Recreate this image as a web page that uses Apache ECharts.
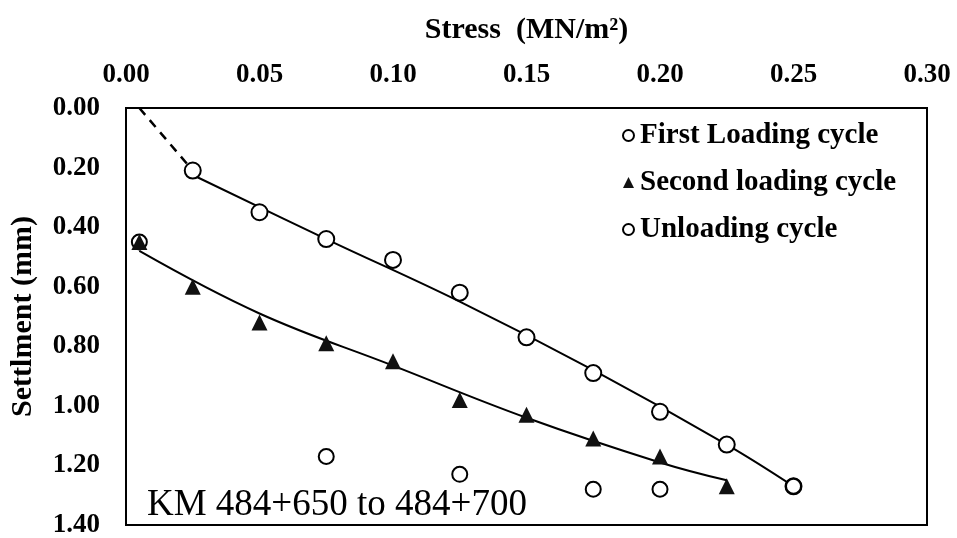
<!DOCTYPE html>
<html>
<head>
<meta charset="utf-8">
<script src="https://cdn.jsdelivr.net/npm/echarts@6/dist/echarts.min.js"></script>
<style>
  html, body { margin: 0; padding: 0; background: #fff; }
  #chart { width: 957px; height: 538px; }
</style>
</head>
<body>
<div id="chart"></div>
<script>
// Plate load test: stress (MN/m²) vs settlement (mm)
const seriesNames = ['First Loading cycle', 'Second loading cycle', 'Unloading cycle'];

// measured points [stress, settlement]
const firstLoading = [
  [0.025, 0.21], [0.05, 0.35], [0.075, 0.44], [0.10, 0.51], [0.125, 0.62],
  [0.15, 0.77], [0.175, 0.89], [0.20, 1.02], [0.225, 1.13], [0.25, 1.27]
];
const secondLoading = [
  [0.005, 0.45], [0.025, 0.60], [0.05, 0.72], [0.075, 0.79], [0.10, 0.85],
  [0.125, 0.98], [0.15, 1.03], [0.175, 1.11], [0.20, 1.17], [0.225, 1.27]
];
const unloading = [
  [0.25, 1.27], [0.20, 1.28], [0.175, 1.28], [0.125, 1.23], [0.075, 1.17], [0.005, 0.45]
];

// fitted curves drawn through the loading data
const firstTrend = [
  [0.025, 0.225], [0.075, 0.44], [0.125, 0.65], [0.175, 0.88], [0.225, 1.13], [0.25, 1.27]
];
const secondTrend = [
  [0.005, 0.48], [0.05, 0.69], [0.10, 0.865], [0.15, 1.04], [0.20, 1.19], [0.225, 1.25]
];
// extrapolated start of the first loading curve
const firstStart = [[0.005, 0.0], [0.025, 0.21]];

const serif = 'Liberation Serif, Times New Roman, serif';

const chart = echarts.init(document.getElementById('chart'), null, { renderer: 'canvas' });

chart.setOption({
  backgroundColor: '#fff',
  animation: false,
  grid: {
    left: 126, top: 108, right: 30, bottom: 13,
    outerBoundsMode: 'none', containLabel: false,
    show: true, borderColor: '#000', borderWidth: 2
  },
  xAxis: {
    type: 'value', position: 'top',
    min: 0, max: 0.30, interval: 0.05,
    name: 'Stress  (MN/m²)', nameLocation: 'middle', nameGap: 63, nameMoveOverlap: false,
    nameTextStyle: { fontFamily: serif, fontWeight: 'bold', fontSize: 30, color: '#000' },
    axisLine: { show: true, lineStyle: { color: '#000', width: 2 } },
    axisTick: { show: false },
    splitLine: { show: false },
    axisLabel: {
      margin: 19, color: '#000', fontFamily: serif, fontWeight: 'bold', fontSize: 27,
      formatter: v => v.toFixed(2)
    }
  },
  yAxis: {
    type: 'value', inverse: true,
    min: 0, max: 1.4, interval: 0.2,
    name: 'Settlment (mm)', nameLocation: 'middle', nameGap: 88, nameRotate: 90, nameMoveOverlap: false,
    nameTextStyle: { fontFamily: serif, fontWeight: 'bold', fontSize: 30, color: '#000' },
    axisLine: { show: true, lineStyle: { color: '#000', width: 2 } },
    axisTick: { show: false },
    splitLine: { show: false },
    axisLabel: {
      margin: 26, color: '#000', fontFamily: serif, fontWeight: 'bold', fontSize: 27,
      formatter: v => v.toFixed(2)
    }
  },
  legend: {
    data: seriesNames,
    orient: 'vertical',
    left: 617, top: 116,
    itemWidth: 11, itemHeight: 11, itemGap: 18,
    textStyle: { fontFamily: serif, fontWeight: 'bold', fontSize: 29, lineHeight: 29, color: '#000', padding: [0, 0, 0, 1] }
  },
  graphic: [{
    type: 'text',
    style: {
      x: 147, y: 505, text: 'KM 484+650 to 484+700',
      font: '37px ' + serif, fill: '#000', textVerticalAlign: 'middle'
    },
    z: 10
  }],
  series: [
    {
      type: 'line', data: firstStart, symbol: 'none', silent: true, z: 1,
      lineStyle: { color: '#000', width: 2.5, type: [9, 7] }
    },
    {
      type: 'line', data: firstTrend, symbol: 'none', smooth: 0.4, silent: true, z: 1,
      lineStyle: { color: '#000', width: 2 }
    },
    {
      type: 'line', data: secondTrend, symbol: 'none', smooth: 0.4, silent: true, z: 1,
      lineStyle: { color: '#000', width: 2 }
    },
    {
      name: seriesNames[0], type: 'scatter', data: firstLoading, z: 3,
      symbol: 'circle', symbolSize: 16,
      itemStyle: { color: '#fff', borderColor: '#000', borderWidth: 2, opacity: 1 }
    },
    {
      name: seriesNames[2], type: 'scatter', data: unloading, z: 3,
      symbol: 'circle', symbolSize: 15,
      itemStyle: { color: '#fff', borderColor: '#000', borderWidth: 2, opacity: 1 }
    },
    {
      name: seriesNames[1], type: 'scatter', data: secondLoading, z: 4,
      symbol: 'triangle', symbolSize: 16,
      itemStyle: { color: '#111', opacity: 1 }
    }
  ]
});
</script>
</body>
</html>
